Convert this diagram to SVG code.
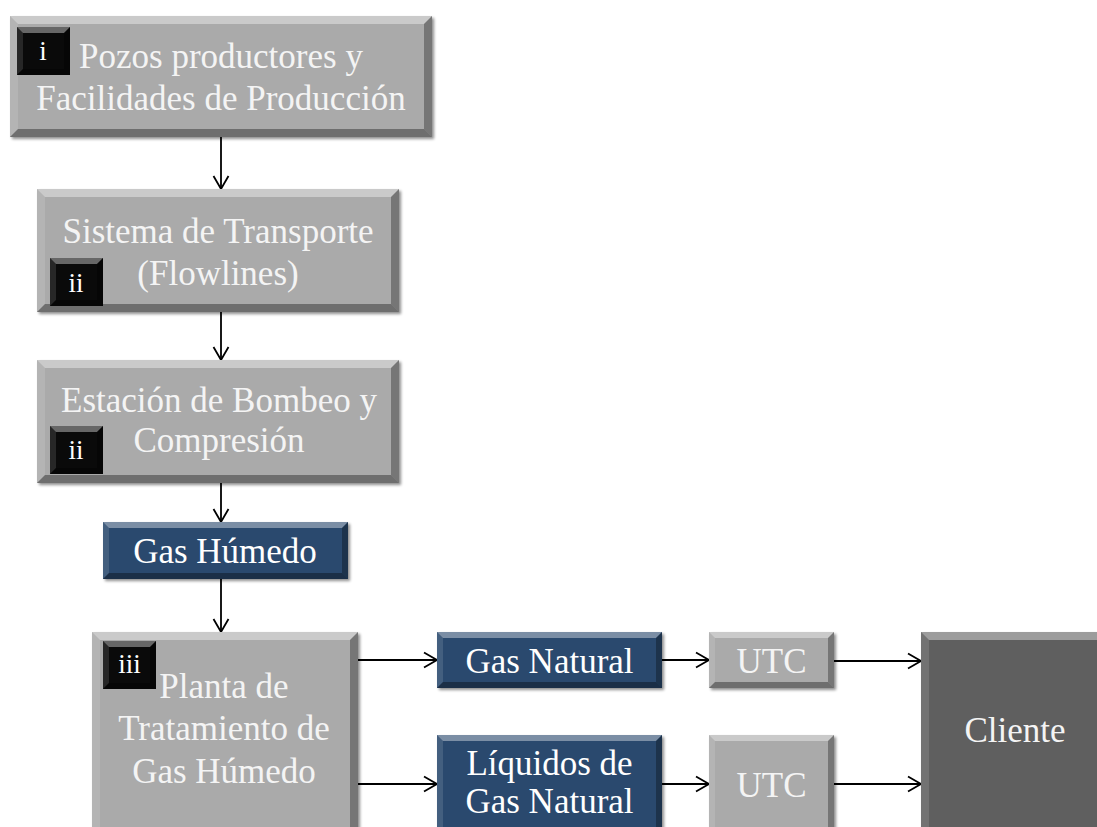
<svg xmlns="http://www.w3.org/2000/svg" width="1097" height="827" viewBox="0 0 1097 827">
<defs>
<filter id="sh" x="-10%" y="-10%" width="125%" height="130%">
<feGaussianBlur in="SourceAlpha" stdDeviation="1.5"/>
<feOffset dx="2" dy="2" result="o"/>
<feComponentTransfer><feFuncA type="linear" slope="0.45"/></feComponentTransfer>
<feMerge><feMergeNode/><feMergeNode in="SourceGraphic"/></feMerge>
</filter>
<marker id="arr" markerUnits="userSpaceOnUse" markerWidth="16" markerHeight="18" refX="14" refY="8" orient="auto" overflow="visible">
<path d="M1,0.5 L14,8 L1,15.5" fill="none" stroke="#000" stroke-width="1.8"/>
</marker>
</defs>
<style>
.gray{fill:#aaaaaa}
.blue{fill:#2b4a6e}
.dark{fill:#5f5f5f}
.blk{fill:#0a0a0a}
.bt{fill:#fff;opacity:.38}
.bl{fill:#fff;opacity:.12}
.br{fill:#000;opacity:.3}
.bb{fill:#000;opacity:.35}
.t{font-family:"Liberation Serif","Times New Roman",serif;font-size:35px;fill:#f4f4f4;text-anchor:middle}
.tw{fill:#fff}
.bd{font-family:"Liberation Serif","Times New Roman",serif;font-size:27px;fill:#fff;text-anchor:middle}
.c{stroke:#000;stroke-width:1.8;fill:none;marker-end:url(#arr)}
</style>
<rect width="1097" height="827" fill="#fff"/>

<g id="connectors">
<line class="c" x1="221" y1="137" x2="221" y2="189"/>
<line class="c" x1="221" y1="312" x2="221" y2="360"/>
<line class="c" x1="221" y1="483" x2="221" y2="522"/>
<line class="c" x1="221" y1="579" x2="221" y2="632"/>
<line class="c" x1="358" y1="660" x2="437" y2="660"/>
<line class="c" x1="358" y1="784" x2="437" y2="784"/>
<line class="c" x1="662" y1="660" x2="709" y2="660"/>
<line class="c" x1="662" y1="784" x2="709" y2="784"/>
<line class="c" x1="834" y1="661" x2="921" y2="661"/>
<line class="c" x1="834" y1="784" x2="921" y2="784"/>
</g>

<g id="pozos">
<g filter="url(#sh)"><rect class="gray" x="10" y="16" width="422" height="121"/></g>
<polygon class="bt" points="10,16 432,16 424,24 18,24"/>
<polygon class="bl" points="10,16 18,24 18,129 10,137"/>
<polygon class="br" points="432,16 432,137 424,129 424,24"/>
<polygon class="bb" points="10,137 432,137 424,129 18,129"/>
<g id="badge-i">
<rect class="blk" x="17" y="27" width="53" height="48"/>
<polygon class="bt" points="17,27 70,27 64,33 23,33"/>
<polygon class="bl" points="17,27 23,33 23,69 17,75"/>
<polygon class="br" points="70,27 70,75 64,69 64,33"/>
<polygon class="bb" points="17,75 70,75 64,69 23,69"/>
<text class="bd" x="43" y="60">i</text>
</g>
<text class="t" x="221" y="68">Pozos productores y</text>
<text class="t" x="221" y="110">Facilidades de Producción</text>
</g>

<g id="sistema">
<g filter="url(#sh)"><rect class="gray" x="37" y="189" width="362" height="123"/></g>
<polygon class="bt" points="37,189 399,189 391,197 45,197"/>
<polygon class="bl" points="37,189 45,197 45,304 37,312"/>
<polygon class="br" points="399,189 399,312 391,304 391,197"/>
<polygon class="bb" points="37,312 399,312 391,304 45,304"/>
<text class="t" x="218" y="243">Sistema de Transporte</text>
<text class="t" x="218" y="285">(Flowlines)</text>
<g id="badge-ii-a">
<rect class="blk" x="50" y="258" width="53" height="48"/>
<polygon class="bt" points="50,258 103,258 97,264 56,264"/>
<polygon class="bl" points="50,258 56,264 56,300 50,306"/>
<polygon class="br" points="103,258 103,306 97,300 97,264"/>
<polygon class="bb" points="50,306 103,306 97,300 56,300"/>
<text class="bd" x="76" y="292">ii</text>
</g>
</g>

<g id="estacion">
<g filter="url(#sh)"><rect class="gray" x="37" y="360" width="362" height="123"/></g>
<polygon class="bt" points="37,360 399,360 391,368 45,368"/>
<polygon class="bl" points="37,360 45,368 45,475 37,483"/>
<polygon class="br" points="399,360 399,483 391,475 391,368"/>
<polygon class="bb" points="37,483 399,483 391,475 45,475"/>
<text class="t" x="219" y="412">Estación de Bombeo y</text>
<text class="t" x="219" y="452">Compresión</text>
<g id="badge-ii-b">
<rect class="blk" x="50" y="426" width="53" height="48"/>
<polygon class="bt" points="50,426 103,426 97,432 56,432"/>
<polygon class="bl" points="50,426 56,432 56,468 50,474"/>
<polygon class="br" points="103,426 103,474 97,468 97,432"/>
<polygon class="bb" points="50,474 103,474 97,468 56,468"/>
<text class="bd" x="76" y="459">ii</text>
</g>
</g>

<g id="gas-humedo">
<g filter="url(#sh)"><rect class="blue" x="103" y="522" width="245" height="57"/></g>
<polygon class="bt" points="103,522 348,522 342,528 109,528"/>
<polygon class="bl" points="103,522 109,528 109,573 103,579"/>
<polygon class="br" points="348,522 348,579 342,573 342,528"/>
<polygon class="bb" points="103,579 348,579 342,573 109,573"/>
<text class="t tw" x="225" y="563">Gas Húmedo</text>
</g>

<g id="planta">
<g filter="url(#sh)"><rect class="gray" x="92" y="632" width="266" height="203"/></g>
<polygon class="bt" points="92,632 358,632 350,640 100,640"/>
<polygon class="bl" points="92,632 100,640 100,827 92,835"/>
<polygon class="br" points="358,632 358,835 350,827 350,640"/>
<g id="badge-iii">
<rect class="blk" x="103" y="641" width="53" height="48"/>
<polygon class="bt" points="103,641 156,641 150,647 109,647"/>
<polygon class="bl" points="103,641 109,647 109,683 103,689"/>
<polygon class="br" points="156,641 156,689 150,683 150,647"/>
<polygon class="bb" points="103,689 156,689 150,683 109,683"/>
<text class="bd" x="129.5" y="673">iii</text>
</g>
<text class="t" x="224" y="698">Planta de</text>
<text class="t" x="224" y="740">Tratamiento de</text>
<text class="t" x="224" y="783">Gas Húmedo</text>
</g>

<g id="gas-natural">
<g filter="url(#sh)"><rect class="blue" x="437" y="632" width="225" height="56"/></g>
<polygon class="bt" points="437,632 662,632 656,638 443,638"/>
<polygon class="bl" points="437,632 443,638 443,682 437,688"/>
<polygon class="br" points="662,632 662,688 656,682 656,638"/>
<polygon class="bb" points="437,688 662,688 656,682 443,682"/>
<text class="t tw" x="549.5" y="673">Gas Natural</text>
</g>

<g id="liquidos">
<g filter="url(#sh)"><rect class="blue" x="437" y="735" width="225" height="100"/></g>
<polygon class="bt" points="437,735 662,735 656,741 443,741"/>
<polygon class="bl" points="437,735 443,741 443,829 437,835"/>
<polygon class="br" points="662,735 662,835 656,829 656,741"/>
<text class="t tw" x="549.5" y="775">Líquidos de</text>
<text class="t tw" x="549.5" y="813">Gas Natural</text>
</g>

<g id="utc1">
<g filter="url(#sh)"><rect class="gray" x="709" y="632" width="125" height="56"/></g>
<polygon class="bt" points="709,632 834,632 828,638 715,638"/>
<polygon class="bl" points="709,632 715,638 715,682 709,688"/>
<polygon class="br" points="834,632 834,688 828,682 828,638"/>
<polygon class="bb" points="709,688 834,688 828,682 715,682"/>
<text class="t" x="771.5" y="673">UTC</text>
</g>

<g id="utc2">
<g filter="url(#sh)"><rect class="gray" x="709" y="735" width="125" height="100"/></g>
<polygon class="bt" points="709,735 834,735 828,741 715,741"/>
<polygon class="bl" points="709,735 715,741 715,829 709,835"/>
<polygon class="br" points="834,735 834,835 828,829 828,741"/>
<text class="t" x="771.5" y="797">UTC</text>
</g>

<g id="cliente">
<g filter="url(#sh)"><rect class="dark" x="921" y="632" width="190" height="203"/></g>
<polygon class="bt" points="921,632 1111,632 1103,640 929,640"/>
<polygon class="bl" points="921,632 929,640 929,827 921,835"/>
<text class="t" x="1015" y="742">Cliente</text>
</g>
</svg>
